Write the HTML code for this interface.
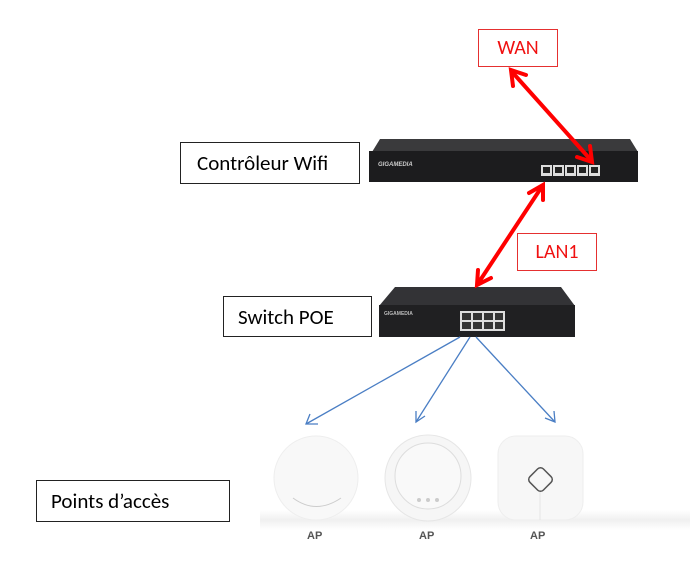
<!DOCTYPE html>
<html><head><meta charset="utf-8"><style>
body{margin:0;width:690px;height:568px;background:#fff;position:relative;overflow:hidden;font-family:"Liberation Sans",sans-serif}
.box{position:absolute;border:1.5px solid #222;box-sizing:border-box;font-size:21px;color:#000;display:flex;align-items:center;font-family:"Carlito","Liberation Sans",sans-serif}
.red{border-color:#e53030;color:#f01010;justify-content:center;font-size:20px}
.ap{position:absolute;font-size:11px;color:#555;font-weight:bold}
</style></head><body>
<div style="position:absolute;left:260px;top:510px;width:430px;height:20px;background:linear-gradient(#fff,#f0f0f0 50%,#fff)"></div>
<div class="box red" style="left:478px;top:29px;width:80px;height:38px">WAN</div>
<div class="box" style="left:180px;top:142px;width:180px;height:42px;padding-left:16px">Contrôleur Wifi</div>
<div class="box red" style="left:517px;top:233px;width:80px;height:38px">LAN1</div>
<div class="box" style="left:223px;top:296px;width:149px;height:41px;padding-left:14px">Switch POE</div>
<div class="box" style="left:36px;top:480px;width:194px;height:42px;padding-left:14px">Points d’accès</div>
<svg width="690" height="568" style="position:absolute;left:0;top:0">
<polygon points="372,152 380,139 630,139 638,152" fill="#3a3a3c"/>
<rect x="369" y="151" width="269" height="31" fill="#1c1c1e"/>
<text x="378" y="166" font-size="6" fill="#ccc" font-weight="bold" font-style="italic" font-family="Liberation Sans">GIGAMEDIA</text>
<g fill="#ddd"><rect x="541" y="165" width="11" height="11"/><rect x="553" y="165" width="11" height="11"/><rect x="565" y="165" width="11" height="11"/><rect x="577" y="165" width="11" height="11"/><rect x="589" y="165" width="11" height="11"/></g>
<g fill="#222"><rect x="543" y="167" width="7" height="6"/><rect x="555" y="167" width="7" height="6"/><rect x="567" y="167" width="7" height="6"/><rect x="579" y="167" width="7" height="6"/><rect x="591" y="167" width="7" height="6"/></g>
<polygon points="379,306 395,287 561,287 575,306" fill="#333336"/>
<rect x="379" y="305" width="196" height="32" fill="#202022"/>
<text x="384" y="315" font-size="5" fill="#bbb" font-weight="bold" font-family="Liberation Sans">GIGAMEDIA</text>
<g fill="#ddd"><rect x="460" y="311" width="45" height="20"/></g>
<g fill="#333"><rect x="462" y="313" width="9" height="7"/><rect x="473" y="313" width="9" height="7"/><rect x="484" y="313" width="9" height="7"/><rect x="495" y="313" width="8" height="7"/><rect x="462" y="322" width="9" height="7"/><rect x="473" y="322" width="9" height="7"/><rect x="484" y="322" width="9" height="7"/><rect x="495" y="322" width="8" height="7"/></g>
<g stroke="#f00" stroke-width="4" fill="none" stroke-linecap="round">
<line x1="513" y1="73" x2="590" y2="159"/>
<polyline points="513,86 511,70 526,75"/>
<polyline points="577,157 592,162 590,146"/>
<line x1="541" y1="188" x2="479" y2="282"/>
<polyline points="529,193 543,185 543,200"/>
<polyline points="478,270 477,285 491,278"/>
</g>
<g stroke="#4a7ec4" stroke-width="1.3" fill="none">
<line x1="460" y1="337" x2="306" y2="424"/><polyline points="310,414 306,424 318,424"/>
<line x1="470" y1="337" x2="416" y2="422"/><polyline points="416,411 416,422 425,416"/>
<line x1="476" y1="337" x2="555" y2="422"/><polyline points="545,418 555,422 554,411"/>
</g>
<circle cx="316" cy="478" r="42" fill="#f8f8f8" stroke="#eee"/>
<path d="M293,498 Q316,515 341,498" stroke="#ccc" fill="none"/>
<circle cx="428" cy="478" r="43" fill="#f6f6f6" stroke="#e6e6e6"/>
<circle cx="428" cy="476" r="33" fill="#f9f9f9" stroke="#ddd"/>
<g fill="#ccc"><circle cx="419" cy="500" r="2"/><circle cx="428" cy="500" r="2"/><circle cx="437" cy="500" r="2"/></g>
<rect x="498" y="436" width="85" height="84" rx="18" fill="#f7f7f7" stroke="#eee"/>
<line x1="540" y1="490" x2="540" y2="520" stroke="#e4e4e4"/>
<rect x="531" y="470" width="19" height="19" rx="4" transform="rotate(45 540.5 479.5)" fill="none" stroke="#555" stroke-width="1.5"/>
</svg>
<div class="ap" style="left:307px;top:530px">AP</div>
<div class="ap" style="left:419px;top:530px">AP</div>
<div class="ap" style="left:530px;top:530px">AP</div>
</body></html>
